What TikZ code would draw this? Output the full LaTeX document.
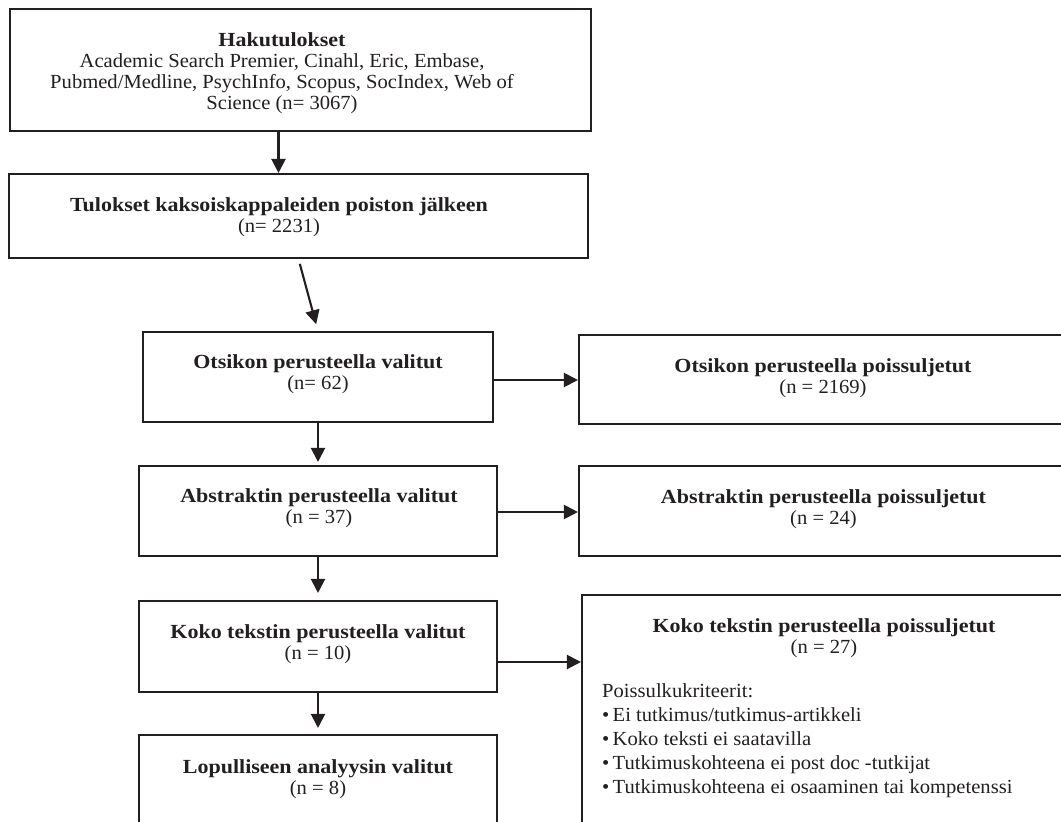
\documentclass[tikz,border=0pt]{standalone}
\usepackage{fontspec}
\setmainfont{Liberation Serif}[FakeStretch=1.03, BoldFeatures={FakeStretch=1.10}]
\usetikzlibrary{arrows.meta}
\definecolor{ink}{HTML}{231F20}
\begin{document}
\begin{tikzpicture}[x=1pt,y=-1pt,
  box/.style={draw=ink,line width=2.1pt,inner sep=0pt},
  lbl/.style={align=center,font=\fontsize{20}{21}\selectfont,text=ink,inner sep=0pt},
  lst/.style={align=left,font=\fontsize{20}{24.2}\selectfont,text=ink,inner sep=0pt},
  arr/.style={draw=ink,line width=2.1pt,-{Triangle[length=14pt,width=14pt]}}]
\useasboundingbox (0,0) rectangle (1061,822);
\clip (0,0) rectangle (1061,822);
\fill[white] (0,0) rectangle (1061,822);
% boxes
\node[box,minimum width=581pt,minimum height=122pt] (hk) at (300.5,70) {};
\node[box,minimum width=579pt,minimum height=84pt] (tk) at (298.5,216) {};
\node[box,minimum width=350pt,minimum height=90pt] (ov) at (318,377) {};
\node[box,minimum width=496pt,minimum height=89pt] (op) at (827,379.5) {};
\node[box,minimum width=358pt,minimum height=90pt] (av) at (318,511) {};
\node[box,minimum width=496pt,minimum height=90pt] (ap) at (827,511) {};
\node[box,minimum width=358pt,minimum height=91pt] (kv) at (318,646.5) {};
\node[box,minimum width=493pt,minimum height=245pt] (kp) at (828.5,717.5) {};
\node[box,minimum width=358pt,minimum height=105pt] (lv) at (318,787.5) {};
% texts
\node[lbl] (t1) at (282,73.5) {\textbf{Hakutulokset}\\Academic Search Premier, Cinahl, Eric, Embase,\\Pubmed/Medline, PsychInfo, Scopus, SocIndex, Web of\\Science (n= 3067)};
\node[lbl] (t2) at (279,217.5) {\textbf{Tulokset kaksoiskappaleiden poiston jälkeen}\\(n= 2231)};
\node[lbl] (t3) at (318,374.5) {\textbf{Otsikon perusteella valitut}\\(n= 62)};
\node[lbl] (t4) at (823,378) {\textbf{Otsikon perusteella poissuljetut}\\(n = 2169)};
\node[lbl] (t5) at (319,508.5) {\textbf{Abstraktin perusteella valitut}\\(n = 37)};
\node[lbl] (t6) at (823.5,509.5) {\textbf{Abstraktin perusteella poissuljetut}\\(n = 24)};
\node[lbl] (t7) at (318,644.5) {\textbf{Koko tekstin perusteella valitut}\\(n = 10)};
\node[lbl] (t8) at (824,638.5) {\textbf{Koko tekstin perusteella poissuljetut}\\(n = 27)};
\node[lst,anchor=north west] (t9) at (602,683) {Poissulkukriteerit:\\\textbullet\,Ei tutkimus/tutkimus-artikkeli\\\textbullet\,Koko teksti ei saatavilla\\\textbullet\,Tutkimuskohteena ei post doc -tutkijat\\\textbullet\,Tutkimuskohteena ei osaaminen tai kompetenssi};
\node[lbl] (t10) at (318,779.5) {\textbf{Lopulliseen analyysin valitut}\\(n = 8)};
% connectors
\draw[arr] ([xshift=-22pt]hk.south) -- ([xshift=-22pt]hk.south |- tk.north);
\draw[arr,shorten <=5pt,shorten >=7pt] (tk.south) -- (ov.north);
\draw[arr,shorten >=3pt] (ov.south) -- (av.north);
\draw[arr,shorten >=7pt] (av.south) -- (kv.north);
\draw[arr,shorten >=6pt] (kv.south) -- (lv.north);
\draw[arr] ([yshift=-3pt]ov.east) -- ([yshift=-3pt]ov.east -| op.west);
\draw[arr] ([yshift=-1pt]av.east) -- ([yshift=-1pt]av.east -| ap.west);
\draw[arr] ([yshift=-15.5pt]kv.east) -- ([yshift=-15.5pt]kv.east -| kp.west);
\end{tikzpicture}
\end{document}
